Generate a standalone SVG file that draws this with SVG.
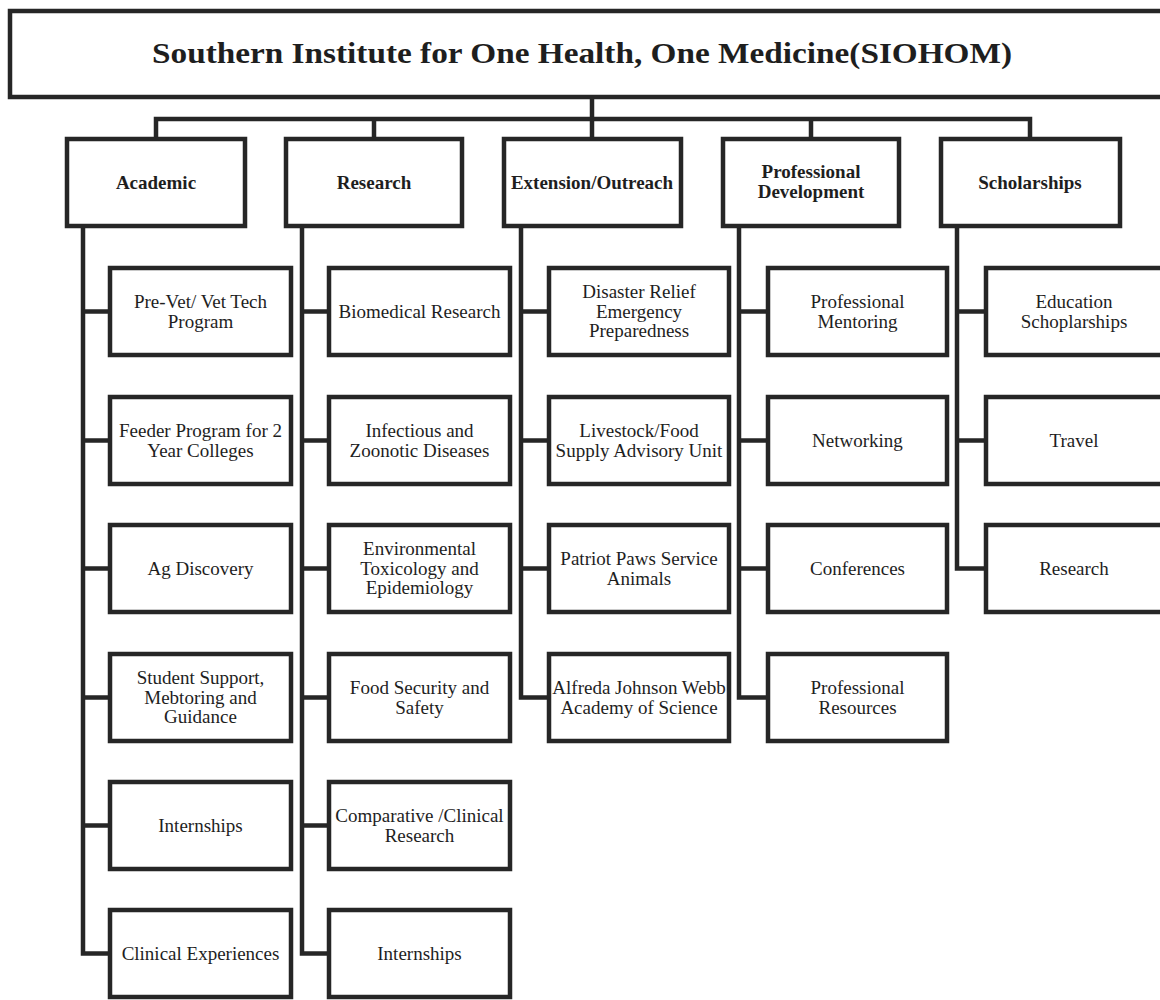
<svg xmlns="http://www.w3.org/2000/svg" width="1160" height="1000" viewBox="0 0 1160 1000">
<style>
.bg{fill:#ffffff}
.box{fill:#ffffff;stroke:#262626;stroke-width:4.5}
.ln{fill:none;stroke:#262626;stroke-width:4.5;stroke-linejoin:miter}
.t{font-family:"Liberation Serif","Times New Roman",serif;font-size:19px;fill:#1e1e1e;text-anchor:middle}
.h{font-family:"Liberation Serif","Times New Roman",serif;font-size:19px;font-weight:bold;fill:#1e1e1e;text-anchor:middle}
.title{font-family:"Liberation Serif","Times New Roman",serif;font-size:30px;font-weight:bold;fill:#1e1e1e;text-anchor:middle}
</style>
<rect class="bg" x="0" y="0" width="1160" height="1000"/>

<g id="connectors">
  <path class="ln" d="M592 97 V139"/>
  <path class="ln" d="M156 139 V119 H1030 V139"/>
  <path class="ln" d="M374 119 V139"/>
  <path class="ln" d="M811 119 V139"/>
  <!-- Academic -->
  <path class="ln" d="M83 226 V953.5 H110"/>
  <path class="ln" d="M83 311.5 H110 M83 440.5 H110 M83 568.5 H110 M83 697.5 H110 M83 825.5 H110"/>
  <!-- Research -->
  <path class="ln" d="M302 226 V953.5 H329"/>
  <path class="ln" d="M302 311.5 H329 M302 440.5 H329 M302 568.5 H329 M302 697.5 H329 M302 825.5 H329"/>
  <!-- Extension -->
  <path class="ln" d="M521 226 V697.5 H549"/>
  <path class="ln" d="M521 311.5 H549 M521 440.5 H549 M521 568.5 H549"/>
  <!-- Professional Development -->
  <path class="ln" d="M739 226 V697.5 H768"/>
  <path class="ln" d="M739 311.5 H768 M739 440.5 H768 M739 568.5 H768"/>
  <!-- Scholarships -->
  <path class="ln" d="M957 226 V568.5 H986"/>
  <path class="ln" d="M957 311.5 H986 M957 440.5 H986"/>
</g>

<g id="root">
  <rect class="box" x="10" y="11" width="1165" height="86"/>
  <text class="title" x="582" y="63" textLength="860" lengthAdjust="spacingAndGlyphs">Southern Institute for One Health, One Medicine(SIOHOM)</text>
</g>

<g id="cat-academic">
  <rect class="box" x="67" y="139" width="178" height="87"/>
  <text class="h" x="156" y="189">Academic</text>
</g>
<g id="cat-research">
  <rect class="box" x="286" y="139" width="176" height="87"/>
  <text class="h" x="374" y="189">Research</text>
</g>
<g id="cat-extension">
  <rect class="box" x="504" y="139" width="177" height="87"/>
  <text class="h" x="592" y="189">Extension/Outreach</text>
</g>
<g id="cat-profdev">
  <rect class="box" x="723" y="139" width="176" height="87"/>
  <text class="h" x="811" y="178">Professional</text>
  <text class="h" x="811" y="198">Development</text>
</g>
<g id="cat-scholarships">
  <rect class="box" x="941" y="139" width="179" height="87"/>
  <text class="h" x="1030" y="189">Scholarships</text>
</g>

<!-- Academic children -->
<g id="a1">
  <rect class="box" x="110" y="268" width="181" height="87"/>
  <text class="t" x="200.5" y="308">Pre-Vet/ Vet Tech</text>
  <text class="t" x="200.5" y="327.5">Program</text>
</g>
<g id="a2">
  <rect class="box" x="110" y="397" width="181" height="87"/>
  <text class="t" x="200.5" y="437">Feeder Program for 2</text>
  <text class="t" x="200.5" y="456.5">Year Colleges</text>
</g>
<g id="a3">
  <rect class="box" x="110" y="525" width="181" height="87"/>
  <text class="t" x="200.5" y="574.5">Ag Discovery</text>
</g>
<g id="a4">
  <rect class="box" x="110" y="654" width="181" height="87"/>
  <text class="t" x="200.5" y="684">Student Support,</text>
  <text class="t" x="200.5" y="703.5">Mebtoring and</text>
  <text class="t" x="200.5" y="723">Guidance</text>
</g>
<g id="a5">
  <rect class="box" x="110" y="782" width="181" height="87"/>
  <text class="t" x="200.5" y="831.5">Internships</text>
</g>
<g id="a6">
  <rect class="box" x="110" y="910" width="181" height="87"/>
  <text class="t" x="200.5" y="959.5">Clinical Experiences</text>
</g>

<!-- Research children -->
<g id="r1">
  <rect class="box" x="329" y="268" width="181" height="87"/>
  <text class="t" x="419.5" y="317.5">Biomedical Research</text>
</g>
<g id="r2">
  <rect class="box" x="329" y="397" width="181" height="87"/>
  <text class="t" x="419.5" y="437">Infectious and</text>
  <text class="t" x="419.5" y="456.5">Zoonotic Diseases</text>
</g>
<g id="r3">
  <rect class="box" x="329" y="525" width="181" height="87"/>
  <text class="t" x="419.5" y="555">Environmental</text>
  <text class="t" x="419.5" y="574.5">Toxicology and</text>
  <text class="t" x="419.5" y="594">Epidemiology</text>
</g>
<g id="r4">
  <rect class="box" x="329" y="654" width="181" height="87"/>
  <text class="t" x="419.5" y="694">Food Security and</text>
  <text class="t" x="419.5" y="713.5">Safety</text>
</g>
<g id="r5">
  <rect class="box" x="329" y="782" width="181" height="87"/>
  <text class="t" x="419.5" y="822">Comparative /Clinical</text>
  <text class="t" x="419.5" y="841.5">Research</text>
</g>
<g id="r6">
  <rect class="box" x="329" y="910" width="181" height="87"/>
  <text class="t" x="419.5" y="959.5">Internships</text>
</g>

<!-- Extension children -->
<g id="e1">
  <rect class="box" x="549" y="268" width="180" height="87"/>
  <text class="t" x="639" y="298">Disaster Relief</text>
  <text class="t" x="639" y="317.5">Emergency</text>
  <text class="t" x="639" y="337">Preparedness</text>
</g>
<g id="e2">
  <rect class="box" x="549" y="397" width="180" height="87"/>
  <text class="t" x="639" y="437">Livestock/Food</text>
  <text class="t" x="639" y="456.5">Supply Advisory Unit</text>
</g>
<g id="e3">
  <rect class="box" x="549" y="525" width="180" height="87"/>
  <text class="t" x="639" y="565">Patriot Paws Service</text>
  <text class="t" x="639" y="584.5">Animals</text>
</g>
<g id="e4">
  <rect class="box" x="549" y="654" width="180" height="87"/>
  <text class="t" x="639" y="694">Alfreda Johnson Webb</text>
  <text class="t" x="639" y="713.5">Academy of Science</text>
</g>

<!-- Professional Development children -->
<g id="p1">
  <rect class="box" x="768" y="268" width="179" height="87"/>
  <text class="t" x="857.5" y="308">Professional</text>
  <text class="t" x="857.5" y="327.5">Mentoring</text>
</g>
<g id="p2">
  <rect class="box" x="768" y="397" width="179" height="87"/>
  <text class="t" x="857.5" y="446.5">Networking</text>
</g>
<g id="p3">
  <rect class="box" x="768" y="525" width="179" height="87"/>
  <text class="t" x="857.5" y="574.5">Conferences</text>
</g>
<g id="p4">
  <rect class="box" x="768" y="654" width="179" height="87"/>
  <text class="t" x="857.5" y="694">Professional</text>
  <text class="t" x="857.5" y="713.5">Resources</text>
</g>

<!-- Scholarships children -->
<g id="s1">
  <rect class="box" x="986" y="268" width="190" height="87"/>
  <text class="t" x="1074" y="308">Education</text>
  <text class="t" x="1074" y="327.5">Schoplarships</text>
</g>
<g id="s2">
  <rect class="box" x="986" y="397" width="190" height="87"/>
  <text class="t" x="1074" y="446.5">Travel</text>
</g>
<g id="s3">
  <rect class="box" x="986" y="525" width="190" height="87"/>
  <text class="t" x="1074" y="574.5">Research</text>
</g>
</svg>
